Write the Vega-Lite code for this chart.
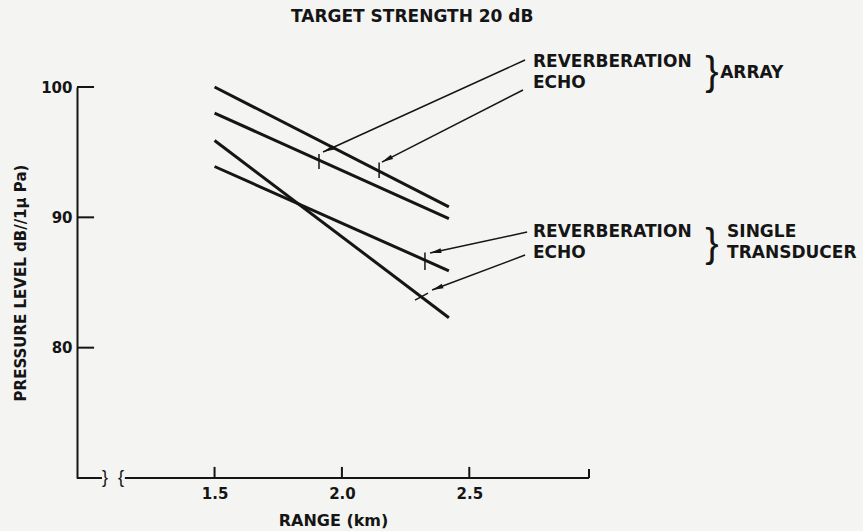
{
  "$schema": "https://vega.github.io/schema/vega-lite/v6.json",
  "width": 512,
  "height": 391,
  "autosize": {"type": "none"},
  "padding": {"left": 77, "top": 87, "right": 274, "bottom": 53},
  "background": "#f4f4f2",
  "config": {"view": {"stroke": null}, "font": "DejaVu Sans"},
  "title": {
    "text": "TARGET STRENGTH 20 dB",
    "anchor": "start",
    "frame": "group",
    "dx": 214,
    "offset": 14,
    "baseline": "alphabetic",
    "font": "DejaVu Sans",
    "fontSize": 17,
    "fontWeight": "bold",
    "color": "#151515"
  },
  "datasets": {
    "curves": [
      {"series": "Array echo", "range_km": 1.5, "level_db": 100.0},
      {"series": "Array echo", "range_km": 2.42, "level_db": 90.8},
      {"series": "Array reverberation", "range_km": 1.5, "level_db": 98.0},
      {"series": "Array reverberation", "range_km": 2.42, "level_db": 89.9},
      {"series": "Single transducer echo", "range_km": 1.5, "level_db": 95.9},
      {"series": "Single transducer echo", "range_km": 2.42, "level_db": 82.3},
      {"series": "Single transducer reverberation", "range_km": 1.5, "level_db": 93.9},
      {"series": "Single transducer reverberation", "range_km": 2.42, "level_db": 85.9}
    ],
    "segments": [
      {"kind": "arrow", "id": "a1", "range_km": 2.719, "level_db": 102.07, "range_km2": 1.926, "level_db2": 95.01},
      {"kind": "arrow", "id": "a2", "range_km": 2.711, "level_db": 99.77, "range_km2": 2.157, "level_db2": 94.24},
      {"kind": "arrow", "id": "a3", "range_km": 2.727, "level_db": 88.87, "range_km2": 2.346, "level_db2": 87.26},
      {"kind": "arrow", "id": "a4", "range_km": 2.719, "level_db": 87.11, "range_km2": 2.354, "level_db2": 84.42},
      {"kind": "marker", "id": "m1", "range_km": 1.91, "level_db": 94.85, "range_km2": 1.91, "level_db2": 93.71},
      {"kind": "marker", "id": "m2", "range_km": 2.146, "level_db": 94.2, "range_km2": 2.146, "level_db2": 93.02},
      {"kind": "marker", "id": "m3", "range_km": 2.326, "level_db": 87.3, "range_km2": 2.326, "level_db2": 85.96},
      {"kind": "marker", "id": "m4", "range_km": 2.287, "level_db": 83.65, "range_km2": 2.338, "level_db2": 84.19},
      {"kind": "axis", "id": "x-left", "range_km": 0.96, "level_db": 70, "range_km2": 1.058, "level_db2": 70},
      {"kind": "axis", "id": "x-right", "range_km": 1.148, "level_db": 70, "range_km2": 2.97, "level_db2": 70},
      {"kind": "axis", "id": "x-end", "range_km": 2.97, "level_db": 70, "range_km2": 2.97, "level_db2": 70.7},
      {"kind": "axis", "id": "xt15", "range_km": 1.5, "level_db": 70, "range_km2": 1.5, "level_db2": 70.85},
      {"kind": "axis", "id": "xt20", "range_km": 2.0, "level_db": 70, "range_km2": 2.0, "level_db2": 70.85},
      {"kind": "axis", "id": "xt25", "range_km": 2.5, "level_db": 70, "range_km2": 2.5, "level_db2": 70.85},
      {"kind": "axis", "id": "yt100", "range_km": 0.96, "level_db": 100, "range_km2": 1.027, "level_db2": 100},
      {"kind": "axis", "id": "yt90", "range_km": 0.96, "level_db": 90, "range_km2": 1.027, "level_db2": 90},
      {"kind": "axis", "id": "yt80", "range_km": 0.96, "level_db": 80, "range_km2": 1.027, "level_db2": 80}
    ],
    "arrowheads": [
      {"id": "a1", "range_km": 1.926, "level_db": 95.01},
      {"id": "a2", "range_km": 2.157, "level_db": 94.24},
      {"id": "a3", "range_km": 2.346, "level_db": 87.26},
      {"id": "a4", "range_km": 2.354, "level_db": 84.42}
    ],
    "labels": [
      {"label": "REVERBERATION", "range_km": 2.75, "level_db": 101.92},
      {"label": "ECHO", "range_km": 2.75, "level_db": 100.31},
      {"label": "ARRAY", "range_km": 3.485, "level_db": 101.07},
      {"label": "REVERBERATION", "range_km": 2.75, "level_db": 88.87},
      {"label": "ECHO", "range_km": 2.75, "level_db": 87.26},
      {"label": "SINGLE", "range_km": 3.512, "level_db": 88.87},
      {"label": "TRANSDUCER", "range_km": 3.512, "level_db": 87.26}
    ],
    "braces": [
      {"label": "}", "range_km": 3.453, "level_db": 101.1},
      {"label": "}", "range_km": 3.453, "level_db": 87.9}
    ],
    "breaks": [
      {"label": "}", "range_km": 1.07, "level_db": 70},
      {"label": "{", "range_km": 1.133, "level_db": 70}
    ]
  },
  "encoding": {
    "x": {
      "field": "range_km",
      "type": "quantitative",
      "scale": {"domain": [0.96, 2.97], "nice": false, "zero": false},
      "axis": {
        "values": [1.5, 2.0, 2.5],
        "format": ".1f",
        "domain": false,
        "ticks": false,
        "tickSize": 0,
        "grid": false,
        "labelFlush": false,
        "labelPadding": 8,
        "labelFont": "DejaVu Sans",
        "labelFontWeight": "bold",
        "labelFontSize": 15,
        "labelColor": "#151515",
        "title": "RANGE (km)",
        "titleFont": "DejaVu Sans",
        "titleFontWeight": "bold",
        "titleFontSize": 16,
        "titleColor": "#151515",
        "titleY": 34,
        "titleBaseline": "top"
      }
    },
    "y": {
      "field": "level_db",
      "type": "quantitative",
      "scale": {"domain": [70, 100], "nice": false, "zero": false},
      "axis": {
        "values": [80, 90, 100],
        "domain": true,
        "domainColor": "#151515",
        "domainWidth": 2,
        "ticks": false,
        "tickSize": 0,
        "grid": false,
        "labelFlush": false,
        "labelPadding": 5,
        "labelFont": "DejaVu Sans",
        "labelFontWeight": "bold",
        "labelFontSize": 15,
        "labelColor": "#151515",
        "title": "PRESSURE LEVEL dB//1μ Pa)",
        "titleFont": "DejaVu Sans",
        "titleFontWeight": "bold",
        "titleFontSize": 15,
        "titleColor": "#151515",
        "titleX": -57,
        "titleAngle": -90,
        "titleAlign": "center",
        "titleBaseline": "middle"
      }
    }
  },
  "layer": [
    {
      "data": {"name": "curves"},
      "mark": {"type": "line", "color": "#151515", "strokeWidth": 3},
      "encoding": {"detail": {"field": "series", "type": "nominal"}}
    },
    {
      "data": {"name": "segments"},
      "transform": [{"filter": "datum.kind === 'arrow'"}],
      "mark": {"type": "rule", "color": "#151515", "strokeWidth": 1.5},
      "encoding": {
        "x2": {"field": "range_km2"},
        "y2": {"field": "level_db2"}
      }
    },
    {
      "data": {"name": "segments"},
      "transform": [{"filter": "datum.kind === 'marker'"}],
      "mark": {"type": "rule", "color": "#151515", "strokeWidth": 1.5},
      "encoding": {
        "x2": {"field": "range_km2"},
        "y2": {"field": "level_db2"}
      }
    },
    {
      "data": {"name": "segments"},
      "transform": [{"filter": "datum.kind === 'axis'"}],
      "mark": {"type": "rule", "color": "#151515", "strokeWidth": 2},
      "encoding": {
        "x2": {"field": "range_km2"},
        "y2": {"field": "level_db2"}
      }
    },
    {
      "data": {"name": "arrowheads"},
      "transform": [{"filter": "datum.id === 'a1'"}],
      "mark": {"type": "point", "shape": "M0,0L0.3,1.4L-0.3,1.4Z", "filled": true, "color": "#151515", "size": 260, "angle": 245.5, "opacity": 1}
    },
    {
      "data": {"name": "arrowheads"},
      "transform": [{"filter": "datum.id === 'a2'"}],
      "mark": {"type": "point", "shape": "M0,0L0.3,1.4L-0.3,1.4Z", "filled": true, "color": "#151515", "size": 260, "angle": 243, "opacity": 1}
    },
    {
      "data": {"name": "arrowheads"},
      "transform": [{"filter": "datum.id === 'a3'"}],
      "mark": {"type": "point", "shape": "M0,0L0.3,1.4L-0.3,1.4Z", "filled": true, "color": "#151515", "size": 260, "angle": 257.8, "opacity": 1}
    },
    {
      "data": {"name": "arrowheads"},
      "transform": [{"filter": "datum.id === 'a4'"}],
      "mark": {"type": "point", "shape": "M0,0L0.3,1.4L-0.3,1.4Z", "filled": true, "color": "#151515", "size": 260, "angle": 249.4, "opacity": 1}
    },
    {
      "data": {"name": "labels"},
      "mark": {"type": "text", "align": "left", "baseline": "middle", "font": "DejaVu Sans", "fontWeight": "bold", "fontSize": 17, "color": "#151515"},
      "encoding": {"text": {"field": "label"}}
    },
    {
      "data": {"name": "braces"},
      "mark": {"type": "text", "align": "center", "baseline": "middle", "font": "Liberation Sans", "fontWeight": "normal", "fontSize": 40, "color": "#151515"},
      "encoding": {"text": {"field": "label"}}
    },
    {
      "data": {"name": "breaks"},
      "mark": {"type": "text", "align": "center", "baseline": "middle", "font": "Liberation Sans", "fontWeight": "normal", "fontSize": 18, "color": "#151515"},
      "encoding": {"text": {"field": "label"}}
    }
  ]
}
